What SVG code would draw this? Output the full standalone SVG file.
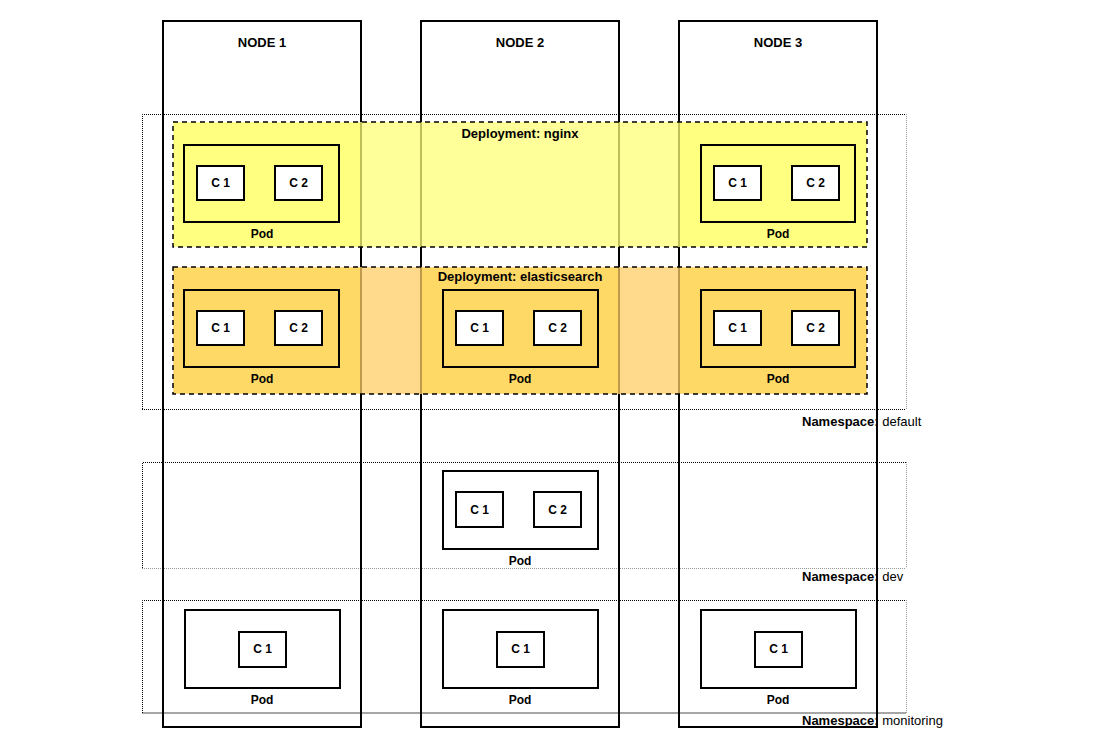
<svg xmlns="http://www.w3.org/2000/svg" width="1100" height="745" viewBox="0 0 1100 745">
<style>
  text { font-family: "Liberation Sans", Arial, sans-serif; fill: #000; }
  .t13 { font-size: 13px; font-weight: bold; text-anchor: middle; }
  .t12 { font-size: 12px; font-weight: bold; text-anchor: middle; }
  .ns { font-size: 13px; }
  .nsb { font-weight: bold; }
  .node { fill: none; stroke: #000; stroke-width: 2; }
  .dotk { fill: none; stroke: #000; stroke-width: 1; stroke-dasharray: 1 1; }
  .dotg { fill: none; stroke: #999; stroke-width: 1; stroke-dasharray: 1 1; }
  .depN { fill: #ffff77; fill-opacity: 0.75; }
  .depE { fill: #ffcc66; fill-opacity: 0.75; }
  .ovN { fill: #ffff80; }
  .ovE { fill: #ffd966; }
  .dash { fill: none; stroke: #000; stroke-width: 1.5; stroke-dasharray: 5 4; }
  .pod { fill: none; stroke: #000; stroke-width: 2; }
  .podw { fill: #fff; stroke: #000; stroke-width: 2; }
  .c { fill: #fff; stroke: #000; stroke-width: 2; }
</style>

<g id="namespaces">
  <g id="ns-default">
    <rect x="142" y="114" width="764" height="295" fill="#fff"/>
    <line x1="906.5" y1="114" x2="906.5" y2="409" class="dotg"/>
    <polyline points="142.5,409 142.5,114.5 906,114.5" class="dotk"/>
    <line x1="142" y1="409.5" x2="906" y2="409.5" class="dotk"/>
  </g>
  <g id="ns-dev">
    <rect x="142" y="462" width="764" height="106" fill="#fff"/>
    <line x1="906.5" y1="462" x2="906.5" y2="568" class="dotg"/>
    <line x1="142" y1="568.5" x2="906" y2="568.5" class="dotg"/>
    <polyline points="142.5,568 142.5,462.5 906,462.5" class="dotk"/>
  </g>
  <g id="ns-monitoring">
    <rect x="142" y="600" width="764" height="113" fill="#fff"/>
    <line x1="906.5" y1="600" x2="906.5" y2="713" class="dotg"/>
    <line x1="142" y1="713" x2="906" y2="713" stroke="#888" stroke-width="1.5"/>
    <polyline points="142.5,713 142.5,600.5 906,600.5" class="dotk"/>
  </g>
</g>

<g id="nodes">
  <g id="node1"><rect x="163" y="21" width="198" height="706" class="node"/><text x="262" y="47" class="t13">NODE 1</text></g>
  <g id="node2"><rect x="421" y="21" width="198" height="706" class="node"/><text x="520" y="47" class="t13">NODE 2</text></g>
  <g id="node3"><rect x="679" y="21" width="198" height="706" class="node"/><text x="778" y="47" class="t13">NODE 3</text></g>
</g>

<g id="deployment-nginx">
  <rect x="173" y="122" width="694" height="125" class="depN"/>
  <rect x="174" y="123" width="186" height="123" class="ovN"/>
  <rect x="680" y="123" width="186" height="123" class="ovN"/>
  <rect x="173" y="122" width="694" height="125" class="dash"/>
  <text x="520" y="138" class="t13">Deployment: nginx</text>
</g>

<g id="deployment-elasticsearch">
  <rect x="173" y="267" width="694" height="127" class="depE"/>
  <rect x="174" y="268" width="186" height="125" class="ovE"/>
  <rect x="422" y="268" width="196" height="125" class="ovE"/>
  <rect x="680" y="268" width="186" height="125" class="ovE"/>
  <rect x="173" y="267" width="694" height="127" class="dash"/>
  <text x="520" y="281" class="t13">Deployment: elasticsearch</text>
</g>

<g id="pod-nginx-1">
  <rect x="184" y="145" width="155" height="77" class="pod"/>
  <rect x="197" y="166" width="47" height="34" class="c"/><text x="220.5" y="187" class="t12">C 1</text>
  <rect x="275" y="166" width="47" height="34" class="c"/><text x="298.5" y="187" class="t12">C 2</text>
  <text x="262" y="238" class="t12">Pod</text>
</g>
<g id="pod-nginx-3">
  <rect x="701" y="145" width="154" height="77" class="pod"/>
  <rect x="714" y="166" width="47" height="34" class="c"/><text x="737.5" y="187" class="t12">C 1</text>
  <rect x="792" y="166" width="47" height="34" class="c"/><text x="815.5" y="187" class="t12">C 2</text>
  <text x="778" y="238" class="t12">Pod</text>
</g>

<g id="pod-es-1">
  <rect x="184" y="290" width="155" height="77" class="pod"/>
  <rect x="197" y="311" width="47" height="34" class="c"/><text x="220.5" y="332" class="t12">C 1</text>
  <rect x="275" y="311" width="47" height="34" class="c"/><text x="298.5" y="332" class="t12">C 2</text>
  <text x="262" y="383" class="t12">Pod</text>
</g>
<g id="pod-es-2">
  <rect x="443" y="290" width="155" height="77" class="pod"/>
  <rect x="456" y="311" width="47" height="34" class="c"/><text x="479.5" y="332" class="t12">C 1</text>
  <rect x="534" y="311" width="47" height="34" class="c"/><text x="557.5" y="332" class="t12">C 2</text>
  <text x="520" y="383" class="t12">Pod</text>
</g>
<g id="pod-es-3">
  <rect x="701" y="290" width="154" height="77" class="pod"/>
  <rect x="714" y="311" width="47" height="34" class="c"/><text x="737.5" y="332" class="t12">C 1</text>
  <rect x="792" y="311" width="47" height="34" class="c"/><text x="815.5" y="332" class="t12">C 2</text>
  <text x="778" y="383" class="t12">Pod</text>
</g>

<g id="pod-dev-2">
  <rect x="443" y="471" width="155" height="78" class="podw"/>
  <rect x="456" y="492" width="47" height="35" class="c"/><text x="479.5" y="514" class="t12">C 1</text>
  <rect x="534" y="492" width="47" height="35" class="c"/><text x="557.5" y="514" class="t12">C 2</text>
  <text x="520" y="565" class="t12">Pod</text>
</g>

<g id="pod-mon-1">
  <rect x="185" y="610" width="155" height="78" class="podw"/>
  <rect x="239" y="632" width="47" height="35" class="c"/><text x="262.5" y="653" class="t12">C 1</text>
  <text x="262" y="704" class="t12">Pod</text>
</g>
<g id="pod-mon-2">
  <rect x="443" y="610" width="155" height="78" class="podw"/>
  <rect x="497" y="632" width="47" height="35" class="c"/><text x="520.5" y="653" class="t12">C 1</text>
  <text x="520" y="704" class="t12">Pod</text>
</g>
<g id="pod-mon-3">
  <rect x="701" y="610" width="155" height="78" class="podw"/>
  <rect x="755" y="632" width="47" height="35" class="c"/><text x="778.5" y="653" class="t12">C 1</text>
  <text x="778" y="704" class="t12">Pod</text>
</g>

<g id="namespace-labels">
  <text x="802" y="426" class="ns"><tspan class="nsb">Namespace:</tspan> default</text>
  <text x="802" y="581" class="ns"><tspan class="nsb">Namespace:</tspan> dev</text>
  <text x="802" y="725" class="ns"><tspan class="nsb">Namespace:</tspan> monitoring</text>
</g>

<g id="connectors"></g>
</svg>
